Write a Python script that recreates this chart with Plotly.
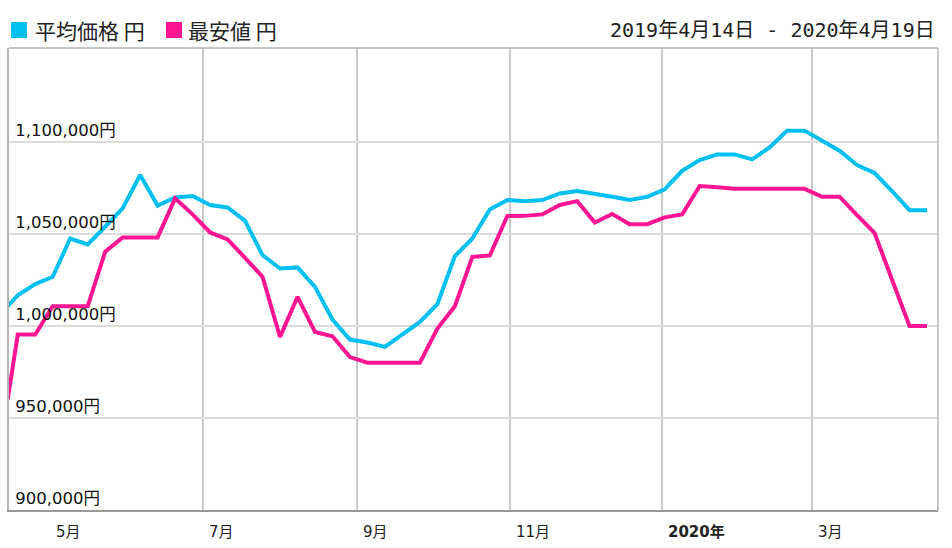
import plotly.graph_objects as go

dates = [
    "2019-04-14", "2019-04-18", "2019-04-25", "2019-05-02", "2019-05-09", "2019-05-16",
    "2019-05-23", "2019-05-30", "2019-06-06", "2019-06-13", "2019-06-20", "2019-06-27",
    "2019-07-04", "2019-07-11", "2019-07-18", "2019-07-25", "2019-08-01", "2019-08-08",
    "2019-08-15", "2019-08-22", "2019-08-29", "2019-09-05", "2019-09-12", "2019-09-19",
    "2019-09-26", "2019-10-03", "2019-10-10", "2019-10-17", "2019-10-24", "2019-10-31",
    "2019-11-07", "2019-11-14", "2019-11-21", "2019-11-28", "2019-12-05", "2019-12-12",
    "2019-12-19", "2019-12-26", "2020-01-02", "2020-01-09", "2020-01-16", "2020-01-23",
    "2020-01-30", "2020-02-06", "2020-02-13", "2020-02-20", "2020-02-27", "2020-03-05",
    "2020-03-12", "2020-03-19", "2020-03-26", "2020-04-02", "2020-04-09", "2020-04-16",
]

avg_price = [
    1010700, 1016700, 1022700, 1026700, 1047500, 1044300, 1053900, 1063900, 1082000, 1065400,
    1069800, 1070600, 1065700, 1064400, 1057100, 1038500, 1031200, 1031800, 1021200, 1003500,
    992600, 991000, 988600, 995500, 1002200, 1011800, 1037900, 1047500, 1063300, 1068400,
    1067800, 1068400, 1072000, 1073300, 1072000, 1070200, 1068400, 1070200, 1074200, 1084300,
    1090100, 1093200, 1093200, 1090500, 1097000, 1106100, 1106100, 1100600, 1095200, 1087400,
    1083200, 1073300, 1062900, 1062900,
]

min_price = [
    960000, 995300, 995300, 1010700, 1010700, 1010700, 1040300, 1048100, 1048100, 1048100,
    1069300, 1060600, 1050800, 1047000, 1037000, 1026700, 994000, 1015800, 996700, 994400,
    983100, 980000, 980000, 980000, 980000, 998600, 1010700, 1037500, 1038300, 1059700,
    1059800, 1060600, 1065700, 1067800, 1056200, 1060800, 1055300, 1055300, 1059000, 1060600,
    1076000, 1075300, 1074500, 1074500, 1074500, 1074500, 1074500, 1070200, 1070200, 1060200,
    1050600, 1025200, 1000000, 1000000,
]

month_ticks = ["2019-05-01", "2019-07-01", "2019-09-01", "2019-11-01", "2020-01-01", "2020-03-01"]
month_labels = ["5月", "7月", "9月", "11月", "<b>2020年</b>", "3月"]

y_ticks = [900000, 950000, 1000000, 1050000, 1100000]
y_labels = ["900,000円", "950,000円", "1,000,000円", "1,050,000円", "1,100,000円"]

series_names = ["平均価格 円", "最安値 円"]
series_colors = ["#00bff3", "#ff1493"]
date_range_text = "2019年4月14日 - 2020年4月19日"

fig = go.Figure()
fig.add_trace(go.Scatter(x=dates, y=avg_price, mode="lines", name=series_names[0],
                         line=dict(color=series_colors[0], width=4), hoverinfo="x+y"))
fig.add_trace(go.Scatter(x=dates, y=min_price, mode="lines", name=series_names[1],
                         line=dict(color=series_colors[1], width=4), hoverinfo="x+y"))

L, R, T, B = 9, 14, 48, 38
W, H = 952, 548
pw, ph = W - L - R, H - T - B


def px_x(x):
    return (x - L) / pw


def px_y(y):
    return (H - B - y) / ph


fig.update_layout(
    width=W, height=H,
    margin=dict(l=L, r=R, t=T, b=B, pad=0),
    paper_bgcolor="white", plot_bgcolor="white",
    showlegend=False,
    font=dict(family="DejaVu Sans, Noto Sans CJK JP", size=15, color="#222"),
    xaxis=dict(
        type="date",
        range=["2019-04-14 12:00", "2020-04-20 10:00"],
        tickvals=month_ticks,
        showticklabels=False,
        ticks="",
        showgrid=True, gridcolor="#c9c9c9", gridwidth=1.5,
        showline=True, linecolor="#9a9a9a", linewidth=2, mirror=False,
        zeroline=False,
    ),
    yaxis=dict(
        range=[900000, 1151000],
        tickvals=y_ticks,
        ticktext=y_labels,
        ticklabelposition="inside top",
        ticklabelstandoff=6,
        tickfont=dict(family="DejaVu Sans, Noto Sans CJK JP", size=16.5, color="#111"),
        ticks="",
        showgrid=True, gridcolor="#dcdcdc", gridwidth=1.5,
        showline=True, linecolor="#b5b5b5", linewidth=1.5,
        zeroline=False,
    ),
)

shapes = []
shapes.append(dict(type="line", xref="paper", yref="paper", x0=1, x1=1, y0=0, y1=1,
                   line=dict(color="#b5b5b5", width=1.5), layer="above"))
shapes.append(dict(type="line", xref="paper", yref="paper", x0=0, x1=1, y0=1, y1=1,
                   line=dict(color="#b5b5b5", width=1.5), layer="above"))
leg_x = [11, 166]
for i, c in enumerate(series_colors):
    shapes.append(dict(type="rect", xref="paper", yref="paper",
                       x0=px_x(leg_x[i]), x1=px_x(leg_x[i] + 16),
                       y0=px_y(38), y1=px_y(22),
                       fillcolor=c, line=dict(width=0)))
fig.update_layout(shapes=shapes)

annotations = []
text_x = [33, 186]
for i, name in enumerate(series_names):
    annotations.append(dict(text=name, xref="paper", yref="paper", x=px_x(text_x[i]), y=px_y(30),
                            xanchor="left", yanchor="middle", showarrow=False,
                            font=dict(family="Noto Sans CJK JP", size=21, color="#222")))
annotations.append(dict(text=date_range_text, xref="paper", yref="paper", x=px_x(937), y=px_y(30),
                        xanchor="right", yanchor="middle", showarrow=False,
                        font=dict(family="DejaVu Sans Mono, Noto Sans CJK JP", size=20, color="#222")))
for d, lab in zip(month_ticks, month_labels):
    annotations.append(dict(text=lab, x=d, xref="x", yref="paper", y=0, yshift=-22,
                            xanchor="left", yanchor="middle", xshift=4, showarrow=False,
                            font=dict(family="DejaVu Sans, Noto Sans CJK JP", size=15, color="#222")))
fig.update_layout(annotations=annotations)

fig.write_html("out.html")
